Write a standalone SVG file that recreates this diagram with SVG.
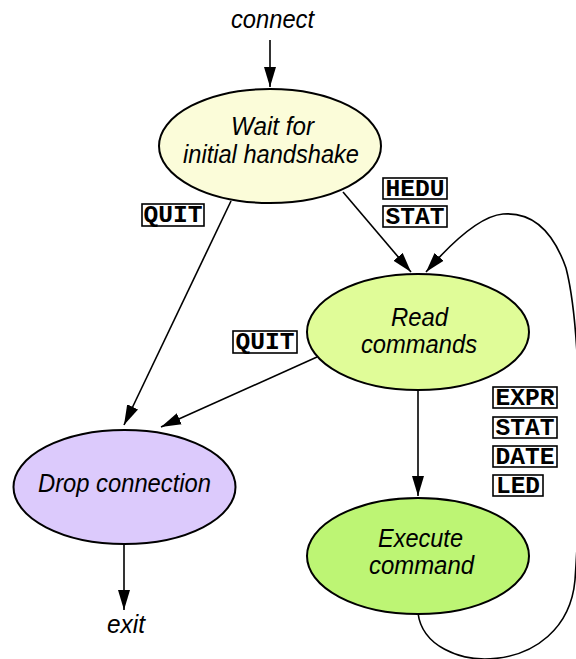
<svg xmlns="http://www.w3.org/2000/svg" width="576" height="659" viewBox="0 0 576 659">
  <style>
    .state { stroke: #000; stroke-width: 2; }
    .name { font-family: "Liberation Sans", "Helvetica", Arial, sans-serif; font-style: italic; font-size: 25px; fill: #000; }
    .edge { fill: none; stroke: #000; stroke-width: 1.6; }
    .tag rect { fill: #fff; stroke: #000; stroke-width: 1.6; }
    .tag text { font-family: "Liberation Mono", "Courier New", monospace; font-weight: bold; font-size: 24px; fill: #000; text-anchor: middle; }
  </style>
  <defs>
    <marker id="arrow" markerUnits="userSpaceOnUse" markerWidth="22" markerHeight="14" refX="20" refY="6.5" orient="auto">
      <path d="M0,0.5 L20,6.5 L0,12.5 z" fill="#000"/>
    </marker>
  </defs>

  <!-- transitions -->
  <g id="connectors">
    <path class="edge" d="M270,40 L270,87" marker-end="url(#arrow)"/>
    <path class="edge" d="M231,201 L124,425" marker-end="url(#arrow)"/>
    <path class="edge" d="M343,192 L411,272" marker-end="url(#arrow)"/>
    <path class="edge" d="M317,357 L161,427" marker-end="url(#arrow)"/>
    <path class="edge" d="M418,390 L418,496" marker-end="url(#arrow)"/>
    <path class="edge" d="M124,544 L124,610" marker-end="url(#arrow)"/>
    <path class="edge" d="M418,613 C426,678 566,680 575,580 C582,480 582,330 566,268 C552,228 530,212 503,214 C480,216 452,242 426,272" marker-end="url(#arrow)"/>
  </g>

  <!-- edge labels -->
  <g id="label-quit-wait" class="tag">
    <rect x="142" y="204" width="62" height="22"/>
    <text x="173" y="222" textLength="59" lengthAdjust="spacingAndGlyphs">QUIT</text>
  </g>
  <g id="label-hedu-stat" class="tag">
    <rect x="383" y="178" width="64" height="21"/>
    <text x="415" y="196" textLength="59" lengthAdjust="spacingAndGlyphs">HEDU</text>
    <rect x="383" y="206" width="64" height="21"/>
    <text x="415" y="224" textLength="59" lengthAdjust="spacingAndGlyphs">STAT</text>
  </g>
  <g id="label-quit-read" class="tag">
    <rect x="233" y="331" width="64" height="22"/>
    <text x="265" y="349" textLength="59" lengthAdjust="spacingAndGlyphs">QUIT</text>
  </g>
  <g id="label-commands" class="tag">
    <rect x="493" y="387" width="64" height="21"/>
    <text x="525" y="405" textLength="59" lengthAdjust="spacingAndGlyphs">EXPR</text>
    <rect x="493" y="417" width="64" height="21"/>
    <text x="525" y="435" textLength="59" lengthAdjust="spacingAndGlyphs">STAT</text>
    <rect x="493" y="446" width="64" height="21"/>
    <text x="525" y="464" textLength="59" lengthAdjust="spacingAndGlyphs">DATE</text>
    <rect x="493" y="475" width="50" height="21"/>
    <text x="518" y="493" textLength="44" lengthAdjust="spacingAndGlyphs">LED</text>
  </g>

  <!-- entry and exit -->
  <g id="connect">
    <text class="name" x="231" y="28" textLength="83" lengthAdjust="spacingAndGlyphs">connect</text>
  </g>
  <g id="exit">
    <text class="name" x="107" y="633" textLength="38" lengthAdjust="spacingAndGlyphs">exit</text>
  </g>

  <!-- states -->
  <g id="wait-handshake">
    <ellipse class="state" cx="270" cy="146" rx="111" ry="57" fill="#fbfcd9"/>
    <text class="name" x="231" y="135" textLength="83" lengthAdjust="spacingAndGlyphs">Wait for</text>
    <text class="name" x="183" y="163" textLength="176" lengthAdjust="spacingAndGlyphs">initial handshake</text>
  </g>
  <g id="read-commands">
    <ellipse class="state" cx="418" cy="332" rx="111" ry="58" fill="#e0fc98"/>
    <text class="name" x="391" y="326" textLength="57" lengthAdjust="spacingAndGlyphs">Read</text>
    <text class="name" x="361" y="353" textLength="116" lengthAdjust="spacingAndGlyphs">commands</text>
  </g>
  <g id="drop-connection">
    <ellipse class="state" cx="124.5" cy="487" rx="111" ry="57" fill="#dccafc"/>
    <text class="name" x="38" y="492" textLength="173" lengthAdjust="spacingAndGlyphs">Drop connection</text>
  </g>
  <g id="execute-command">
    <ellipse class="state" cx="418" cy="556" rx="111" ry="58" fill="#bdf574"/>
    <text class="name" x="378" y="547" textLength="85" lengthAdjust="spacingAndGlyphs">Execute</text>
    <text class="name" x="369" y="574" textLength="105" lengthAdjust="spacingAndGlyphs">command</text>
  </g>
</svg>
